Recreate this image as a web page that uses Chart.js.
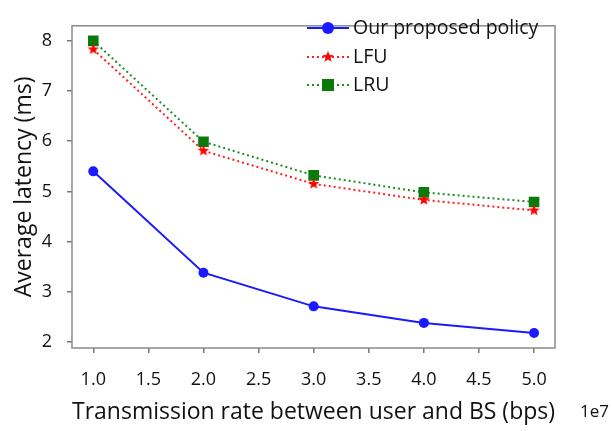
<!DOCTYPE html>
<html>
<head>
<meta charset="utf-8">
<script src="https://cdn.jsdelivr.net/npm/chart.js@4.4.1/dist/chart.umd.min.js"></script>
<style>
  html, body { margin: 0; padding: 0; background: #fff; }
</style>
</head>
<body>
<canvas id="myChart" width="613" height="431"></canvas>
<script>
// data (x in units of 1e7 bps)
const rates = [1.0, 2.0, 3.0, 4.0, 5.0];
const proposedLatency = [5.40, 3.38, 2.71, 2.38, 2.18];
const lfuLatency = [7.83, 5.81, 5.15, 4.83, 4.62];
const lruLatency = [8.00, 5.99, 5.32, 4.98, 4.79];
const seriesNames = ["Our proposed policy", "LFU", "LRU"];
const xTickValues = [1.0, 1.5, 2.0, 2.5, 3.0, 3.5, 4.0, 4.5, 5.0];
const yTickValues = [2, 3, 4, 5, 6, 7, 8];

const FONT = "'Open Sans', 'Noto Sans', sans-serif";

// filled five point star used as the LFU marker
const makeStar = (color, outer, inner) => {
  const c = document.createElement("canvas");
  const s = Math.ceil(outer * 2 + 2);
  c.width = s;
  c.height = s;
  const g = c.getContext("2d");
  g.fillStyle = color;
  g.beginPath();
  for (let i = 0; i < 10; i++) {
    const r = i % 2 === 0 ? outer : inner;
    const a = -Math.PI / 2 + (i * Math.PI) / 5;
    const px = s / 2 + r * Math.cos(a);
    const py = s / 2 + r * Math.sin(a);
    if (i === 0) g.moveTo(px, py);
    else g.lineTo(px, py);
  }
  g.closePath();
  g.fill();
  return c;
};
const starImg = makeStar("#ff0000", 6, 2.6);

const toPoints = (ys) => rates.map((x, i) => ({ x: x, y: ys[i] }));

// frame round the plot, the "1e7" offset text and the legend
const framePlugin = {
  id: "frame",
  afterDatasetsDraw(chart) {
    const { ctx, chartArea: a } = chart;
    ctx.save();
    ctx.strokeStyle = "#8a8a8a";
    ctx.lineWidth = 1.5;
    ctx.strokeRect(a.left, a.top, a.right - a.left, a.bottom - a.top);

    ctx.fillStyle = "#111";
    ctx.font = "17px " + FONT;
    ctx.textBaseline = "middle";
    ctx.textAlign = "left";
    ctx.fillText("1e7", 580, 412);

    // legend
    const lx0 = 307, lx1 = 349, tx = 353;
    const rows = [28, 57, 85];
    chart.data.datasets.forEach((ds, i) => {
      const y = rows[i];
      ctx.strokeStyle = ds.borderColor;
      ctx.lineWidth = ds.borderWidth;
      ctx.setLineDash(ds.borderDash || []);
      ctx.beginPath();
      ctx.moveTo(lx0, y);
      ctx.lineTo(lx1, y);
      ctx.stroke();
      ctx.setLineDash([]);
      const mx = (lx0 + lx1) / 2;
      if (ds.pointStyle === "circle") {
        ctx.fillStyle = ds.pointBackgroundColor;
        ctx.beginPath();
        ctx.arc(mx, y, 6, 0, Math.PI * 2);
        ctx.fill();
      } else if (ds.pointStyle === "rect") {
        ctx.fillStyle = ds.pointBackgroundColor;
        ctx.fillRect(mx - 6, y - 6, 12, 12);
      } else {
        ctx.drawImage(ds.pointStyle, mx - ds.pointStyle.width / 2, y - ds.pointStyle.height / 2);
      }
      ctx.fillStyle = "#111";
      ctx.font = "19.5px " + FONT;
      ctx.fillText(ds.label, tx, y);
    });
    ctx.restore();
  },
};

const ctx = document.getElementById("myChart").getContext("2d");
const myChart = new Chart(ctx, {
  type: "line",
  data: {
    datasets: [
      {
        label: seriesNames[0],
        data: toPoints(proposedLatency),
        borderColor: "#1a1aff",
        backgroundColor: "#1a1aff",
        pointBackgroundColor: "#1a1aff",
        pointBorderWidth: 0,
        borderWidth: 2,
        pointStyle: "circle",
        pointRadius: 5,
      },
      {
        label: seriesNames[1],
        data: toPoints(lfuLatency),
        borderColor: "#ff2020",
        backgroundColor: "#ff2020",
        pointBackgroundColor: "#ff2020",
        borderWidth: 2,
        borderDash: [2, 3],
        pointStyle: starImg,
        pointRadius: 6,
      },
      {
        label: seriesNames[2],
        data: toPoints(lruLatency),
        borderColor: "#1e8c1e",
        backgroundColor: "#0a7a0a",
        pointBackgroundColor: "#0a7a0a",
        pointBorderWidth: 0,
        borderWidth: 2,
        borderDash: [2, 3],
        pointStyle: "rect",
        pointRadius: 7.5,
      },
    ],
  },
  options: {
    responsive: false,
    animation: false,
    layout: { padding: { top: 2, right: 58, bottom: 0, left: 0 } },
    plugins: {
      legend: { display: false },
      tooltip: { enabled: false },
    },
    scales: {
      x: {
        type: "linear",
        min: 0.807,
        max: 5.19,
        afterBuildTicks: (scale) => {
          scale.ticks = xTickValues.map((v) => ({ value: v }));
        },
        afterFit: (scale) => {
          scale.height = 83;
        },
        grid: { drawOnChartArea: false, tickLength: 5, color: "#777", lineWidth: 1.5 },
        border: { display: false },
        ticks: {
          color: "#111",
          padding: 16,
          maxRotation: 0,
          font: { family: FONT, size: 18 },
          callback: (v) => Number(v).toFixed(1),
        },
        title: {
          display: true,
          text: "Transmission rate between user and BS (bps)",
          color: "#111",
          font: { family: FONT, size: 23 },
          padding: { top: 0, bottom: 5 },
        },
      },
      y: {
        min: 1.88,
        max: 8.3,
        afterBuildTicks: (scale) => {
          scale.ticks = yTickValues.map((v) => ({ value: v }));
        },
        afterFit: (scale) => {
          scale.width = 72;
        },
        grid: { drawOnChartArea: false, tickLength: 5, color: "#777", lineWidth: 1.5 },
        border: { display: false },
        ticks: {
          color: "#111",
          padding: 15,
          font: { family: FONT, size: 18 },
        },
        title: {
          display: true,
          text: "Average latency (ms)",
          color: "#111",
          font: { family: FONT, size: 23 },
          padding: { top: 11, bottom: 0 },
        },
      },
    },
  },
  plugins: [framePlugin],
});
</script>
</body>
</html>
